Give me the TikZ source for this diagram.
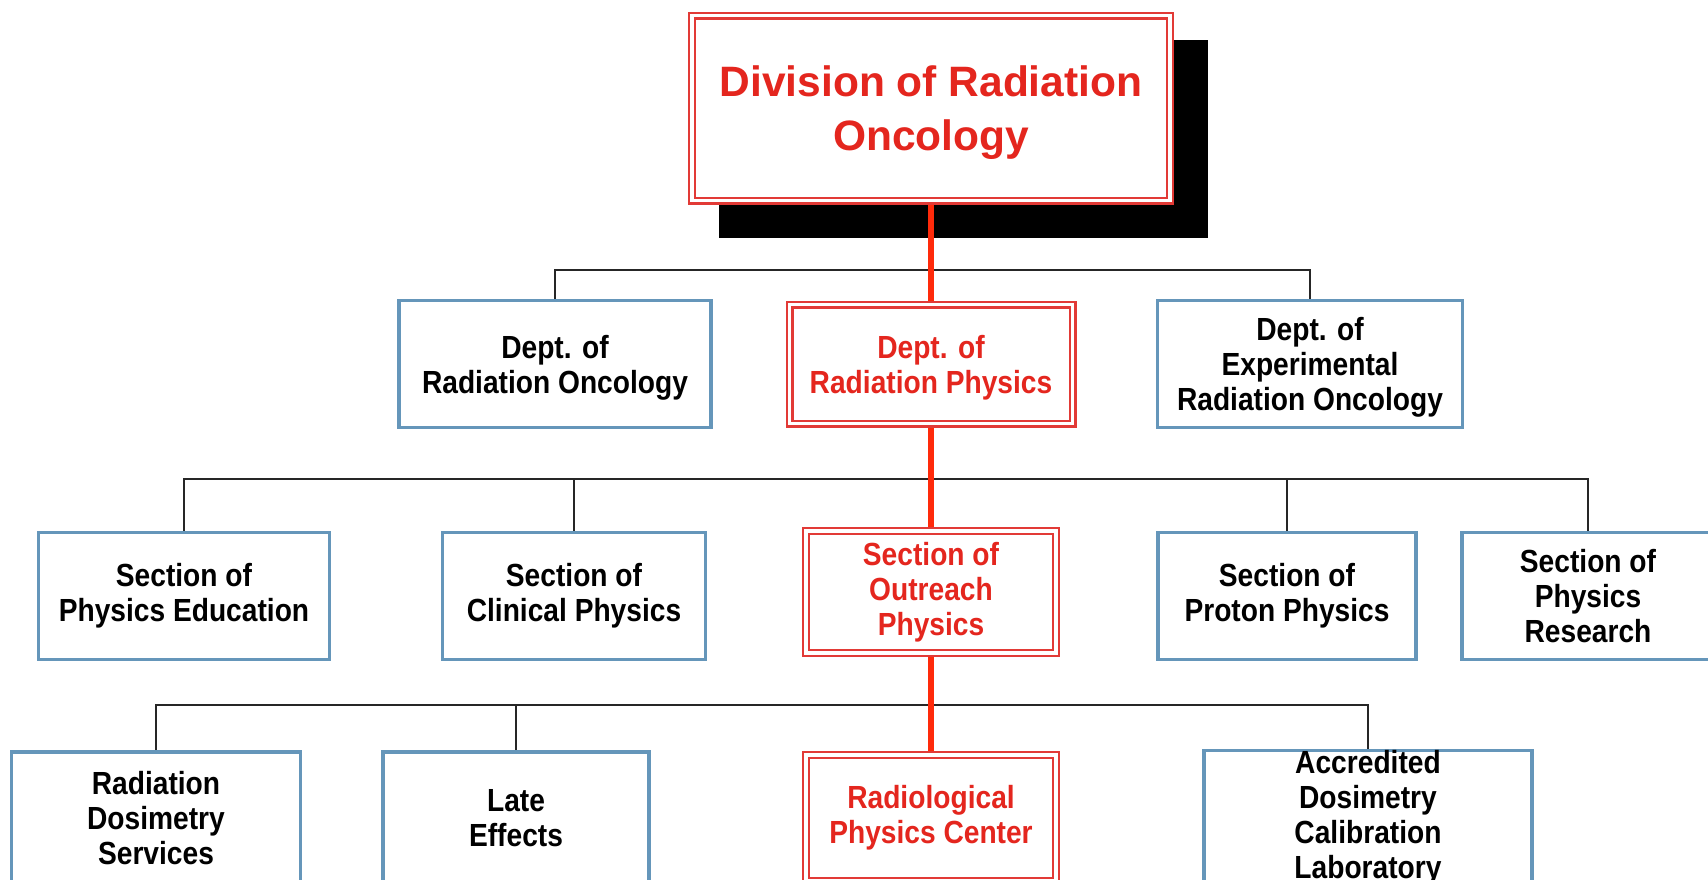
\documentclass[tikz,border=0pt]{standalone}
\usepackage{fontspec}
\setmainfont{Liberation Sans}
\newfontfamily\boxfont[FakeStretch=0.88]{Liberation Sans}
\usetikzlibrary{calc, backgrounds}
\definecolor{redLine}{HTML}{FF2A0A}
\definecolor{redBorder}{HTML}{E23A36}
\definecolor{redText}{HTML}{E4261E}
\definecolor{blueBorder}{HTML}{6596BA}

\begin{document}
\begin{tikzpicture}[x=1pt, y=-1pt, font={\boxfont\bfseries\fontsize{32}{35}\selectfont},
        unit/.style={draw=blueBorder, line width=3.5pt, fill=white, minimum height=127pt,
            inner sep=0pt, align=center},
        core/.style={draw=redBorder, line width=2.2pt, double=white, double distance=3.6pt,
            fill=white, minimum height=119pt, inner sep=0pt, align=center, text=redText},
        link/.style={line width=2pt, black!85},
        spine/.style={line width=6pt, redLine}]
        \useasboundingbox (0,0) rectangle (1708,879);
        \clip (0,0) rectangle (1708,879);
        % division
        \node[core, minimum width=478pt, minimum height=185pt, text depth=0pt,
            font={\bfseries\fontsize{42.5}{54}\selectfont}] (div) at (931,108) {Division of Radiation\\Oncology};
        % departments
        \node[unit, minimum width=312pt, text depth=0pt] (dro)  at (555,364)  {Dept. of\\Radiation Oncology};
        \node[core, minimum width=283pt, text depth=0pt] (drp)  at (931,364)  {Dept. of\\Radiation Physics};
        \node[unit, minimum width=305pt, text depth=0pt] (dero) at (1310,364) {Dept. of\\Experimental\\Radiation Oncology};
        % sections
        \node[unit, minimum width=291pt] (pe) at (184,596)  {Section of\\Physics Education};
        \node[unit, minimum width=263pt] (cp) at (574,596)  {Section of\\Clinical Physics};
        \node[core, minimum width=250pt, minimum height=122pt] (op) at (931,592) {Section of\\Outreach\\Physics};
        \node[unit, minimum width=258pt] (pp) at (1287,596) {Section of\\Proton Physics};
        \node[unit, minimum width=252pt] (pr) at (1588,596) {Section of\\Physics\\Research};
        % units
        \node[unit, minimum width=289pt, minimum height=132pt] (rds)  at (156,818)  {Radiation\\Dosimetry\\Services};
        \node[unit, minimum width=266pt, minimum height=132pt] (le)   at (516,818)  {Late\\Effects};
        \node[core, minimum width=250pt, minimum height=126pt] (rpc)  at (931,818)  {Radiological\\Physics Center};
        \node[unit, minimum width=328pt, minimum height=132pt] (adcl) at (1368,818) {Accredited\\Dosimetry\\Calibration\\Laboratory};
        \coordinate (bus1) at (0,270);
        \coordinate (bus2) at (0,479);
        \coordinate (bus3) at (0,705);
        \begin{scope}[on background layer]
            \fill[white] (0,0) rectangle (1708,879);
            \fill[black] ($(div.north west)+(28,26)$) rectangle ($(div.south east)+(37,36)$);
            \draw[link] (dro.north) |- (dero.north |- bus1) -- (dero.north);
            \draw[link] (pe.north) |- (pr.north |- bus2) -- (pr.north);
            \foreach \n in {cp,pp} \draw[link] (\n.north) -- (\n.north |- bus2);
            \draw[link] (rds.north) |- (adcl.north |- bus3) -- (adcl.north);
            \draw[link] (le.north) -- (le.north |- bus3);
            \draw[spine] (div.south) -- (drp.north);
            \draw[spine] (drp.south) -- (op.north);
            \draw[spine] (op.south) -- (rpc.north);
        \end{scope}
    \end{tikzpicture}
\end{document}
